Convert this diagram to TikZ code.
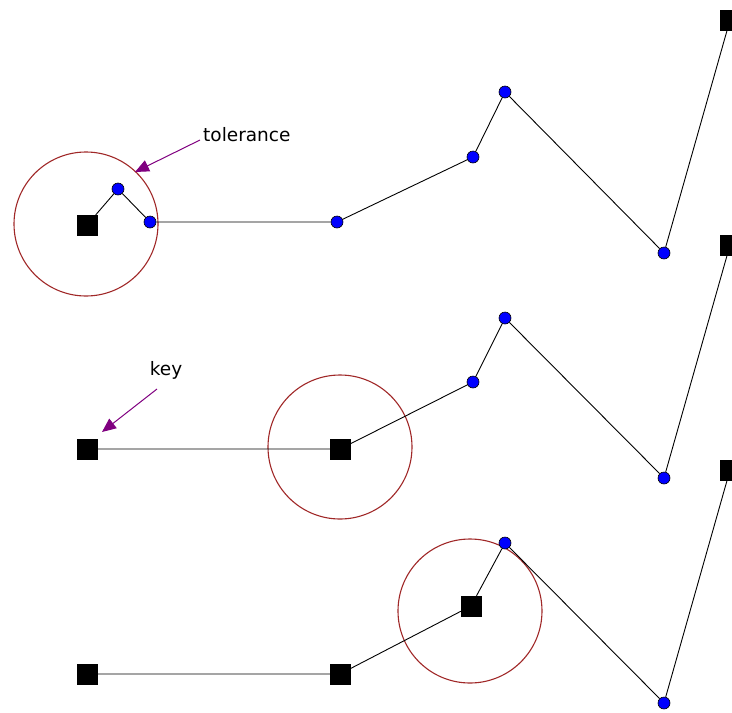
\documentclass[tikz,border=0pt]{standalone}
\usepackage{fontspec}
\setmainfont{DejaVu Sans}
\usetikzlibrary{arrows.meta}
\definecolor{tolred}{RGB}{160,40,40}
\definecolor{ptrpurple}{RGB}{128,0,128}

\begin{document}
\begin{tikzpicture}[x=1pt,y=1pt,yscale=-1,xscale=1,
    keysq/.style={rectangle, draw=black, fill=black, minimum size=20pt, inner sep=0pt},
    vtx/.style={circle, draw=black, fill=blue, minimum size=12pt, inner sep=0pt, line width=0.6pt},
    seg/.style={draw=black, line width=0.9pt},
    tolcircle/.style={draw=tolred, line width=1.1pt},
    pointer/.style={draw=ptrpurple, line width=1pt, -{Triangle[length=14pt,width=12pt]}},
    lbl/.style={inner sep=0pt, font=\fontsize{18.5}{20}\selectfont}]
    \useasboundingbox (0,0) rectangle (732,713);
    % Tolerance circles
    \draw [tolcircle] (86,224) circle (72);
    \draw [tolcircle] (340,447) circle (72);
    \draw [tolcircle] (470,611) circle (72);
    % Row 1
    \node [keysq] (k1) at (87,225) {};
    \node [vtx] (a1) at (118,189) {};
    \node [vtx] (b1) at (150,222) {};
    \node [vtx] (c1) at (337,222) {};
    \node [vtx] (d1) at (473,157) {};
    \node [vtx] (e1) at (505,92) {};
    \node [vtx] (f1) at (664,253) {};
    \node [keysq] (g1) at (730,20) {};
    \draw [seg] (k1) -- (a1) -- (b1) -- (c1) -- (d1) -- (e1) -- (f1) -- (g1);
    % Row 2
    \node [keysq] (k2) at (87,449) {};
    \node [keysq] (a2) at (340,449) {};
    \node [vtx] (d2) at (473,382) {};
    \node [vtx] (e2) at (505,318) {};
    \node [vtx] (f2) at (664,478) {};
    \node [keysq] (g2) at (730,245) {};
    \draw [seg] (k2) -- (a2) -- (d2) -- (e2) -- (f2) -- (g2);
    % Row 3
    \node [keysq] (k3) at (87,674) {};
    \node [keysq] (a3) at (340,674) {};
    \node [keysq] (d3) at (471,606) {};
    \node [vtx] (e3) at (505,543) {};
    \node [vtx] (f3) at (664,703) {};
    \node [keysq] (g3) at (730,470) {};
    \draw [seg] (k3) -- (a3) -- (d3) -- (e3) -- (f3) -- (g3);
    % Labels
    \node [lbl, anchor=west] (tol) at (203,135) {tolerance};
    \node [lbl] (key) at (166,370) {key};
    \coordinate (tolTail) at (200,140);
    \coordinate (tolTip) at (135,172);
    \coordinate (keyTail) at (157,389);
    \coordinate (keyTip) at (102,432);
    \draw [pointer] (tolTail) -- (tolTip);
    \draw [pointer] (keyTail) -- (keyTip);
\end{tikzpicture}
\end{document}
